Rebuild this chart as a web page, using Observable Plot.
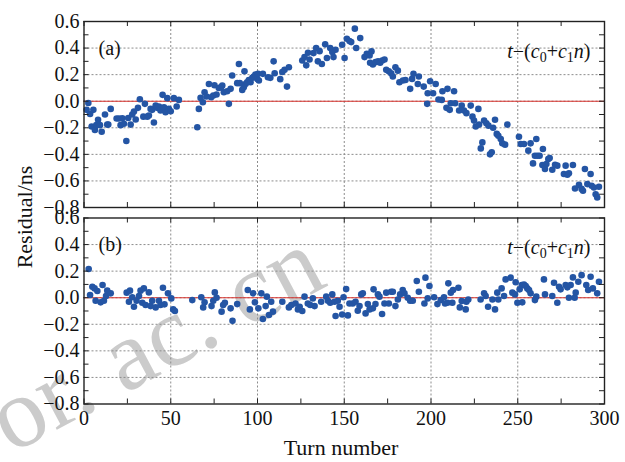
<!DOCTYPE html>
<html><head><meta charset="utf-8">
<script src="https://cdn.jsdelivr.net/npm/d3@7"></script>
<script src="https://cdn.jsdelivr.net/npm/@observablehq/plot@0.6"></script>
<style>
body{margin:0;background:#fff;}
#wrap{position:relative;width:625px;height:462px;overflow:hidden;background:#fff;}
#wm{position:absolute;left:-28px;top:381px;transform:rotate(-28deg);transform-origin:0 0;font:100px "Liberation Serif",serif;color:#cbcbcb;line-height:1;white-space:pre;}
#chart{position:absolute;left:0;top:0;}
#ylab{position:absolute;left:-75px;top:206px;width:200px;text-align:center;font:22px "Liberation Serif",serif;line-height:22px;transform:rotate(-90deg);transform-origin:50% 50%;color:#111;}
#xlab{position:absolute;left:241px;top:437px;width:200px;text-align:center;font:22px "Liberation Serif",serif;line-height:1;color:#111;}
</style></head>
<body>
<div id="wrap"><div id="wm">or. ac. cn</div><div id="chart"></div><div id="ylab">Residual/ns</div><div id="xlab">Turn number</div></div>
<script>
// Panel (a): t − (c0 + c1 n), residual vs turn
const turnsA = [1.5,2.5,3.5,4.4,5.4,6.3,7.1,8.1,9.2,10.2,12.1,13.4,14.0,15.4,18.8,20.2,21.1,22.1,23.0,24.4,25.5,26.9,27.8,28.8,29.8,31.1,32.2,34.2,35.1,36.5,37.4,38.4,39.3,40.3,41.3,42.2,43.2,44.1,45.3,46.1,47.0,48.0,48.9,50.0,51.8,53.4,54.7,
65.3,66.2,67.2,68.5,69.5,70.6,72.0,73.3,74.5,75.2,76.4,77.7,79.0,79.7,80.6,82.5,83.5,84.5,85.4,88.3,89.3,89.8,91.2,92.1,92.5,93.1,94.0,95.0,96.0,97.0,97.9,98.8,99.8,
100.3,100.8,103.1,106.0,107.4,109.3,109.9,113.1,114.3,115.6,117.0,118.1,125.8,127.1,128.1,129.1,130.0,132.3,133.8,134.8,135.8,137.1,139.0,140.0,141.9,143.1,143.8,145.0,148.8,150.2,151.5,153.0,154.0,156.1,156.9,159.2,161.7,163.0,164.6,164.9,165.7,166.5,168.0,169.5,170.7,171.9,173.2,174.2,175.7,177.0,178.0,179.5,180.9,181.8,183.8,185.3,188.0,189.1,189.9,192.4,193.0,195.8,197.8,198.1,199.5,
201.2,202.7,204.3,206.2,206.6,208.9,209.5,210.8,211.4,213.3,213.9,216.2,217.7,219.0,220.4,222.9,223.9,224.8,225.8,227.3,227.7,228.7,229.6,230.6,231.9,233.1,234.0,235.0,235.8,236.9,237.9,238.8,240.2,241.1,242.7,244.0,250.7,251.7,253.6,256.1,257.4,258.8,259.9,260.7,261.3,262.6,264.2,264.5,265.7,266.5,267.6,268.4,269.9,271.5,272.8,276.6,277.6,278.6,279.5,281.8,283.0,285.3,286.8,287.6,288.7,290.1,292.0,292.6,293.9,294.9,295.8,296.8];
const residA = [-0.065,-0.013,-0.096,-0.19,-0.065,-0.216,-0.18,-0.14,-0.18,-0.23,-0.10,-0.176,-0.176,-0.058,-0.13,-0.13,-0.18,-0.128,-0.17,-0.30,-0.126,-0.176,-0.10,-0.078,-0.138,-0.05,0.015,-0.116,-0.02,-0.116,-0.108,-0.058,-0.065,-0.16,-0.033,-0.05,-0.04,-0.07,0.048,-0.045,-0.083,0.023,-0.058,-0.075,0.023,-0.04,0.01,
-0.196,-0.058,0.025,-0.008,0.068,0.035,0.13,0.03,0.043,0.12,0.05,0.10,0.106,0.118,0.068,0.075,-0.02,0.093,0.194,0.136,0.28,0.136,0.085,0.106,0.226,0.13,0.143,0.16,0.143,0.176,0.186,0.2,0.168,
0.206,0.156,0.206,0.18,0.176,0.30,0.21,0.166,0.22,0.236,0.11,0.256,0.307,0.332,0.27,0.365,0.314,0.362,0.40,0.30,0.377,0.28,0.428,0.325,0.40,0.37,0.332,0.387,0.425,0.325,0.47,0.453,0.445,0.546,0.40,0.475,0.332,0.357,0.345,0.29,0.375,0.277,0.294,0.30,0.29,0.307,0.314,0.236,0.226,0.21,0.186,0.256,0.23,0.143,0.156,0.16,0.093,0.168,0.206,0.13,0.186,0.11,-0.02,0.06,0.15,
0.06,0.13,0.013,0.01,0.075,-0.05,0.093,-0.065,-0.015,0.075,-0.015,-0.07,-0.033,-0.07,-0.09,-0.033,-0.116,-0.146,-0.19,-0.058,-0.176,-0.355,-0.31,-0.146,-0.166,-0.184,-0.40,-0.385,-0.20,-0.14,-0.246,-0.26,-0.284,-0.317,-0.327,-0.176,-0.267,-0.322,-0.322,-0.372,-0.317,-0.468,-0.41,-0.284,-0.41,-0.41,-0.48,-0.36,-0.51,-0.473,-0.435,-0.428,-0.516,-0.478,-0.485,-0.548,-0.485,-0.553,-0.543,-0.48,-0.657,-0.63,-0.66,-0.674,-0.51,-0.624,-0.548,-0.636,-0.65,-0.70,-0.725,-0.644];

// Panel (b)
const turnsB = [2.7,3.5,4.8,6.1,6.7,7.7,9.6,10.7,11.5,12.7,13.4,15.4,24.6,25.9,26.5,27.8,28.8,30.3,31.7,32.6,33.6,34.5,35.5,37.4,38.4,39.3,41.3,43.2,44.1,45.5,46.4,48.4,50.3,51.4,52.4,62.4,67.6,68.7,69.5,73.5,74.5,75.4,76.4,79.3,80.2,81.2,84.5,85.6,88.3,94.4,95.6,97.5,98.5,100.5,
102.2,103.1,104.7,105.4,106.6,107.9,108.9,114.3,118.1,119.5,121.9,123.3,124.3,125.8,127.1,129.0,130.4,131.9,132.9,136.7,139.6,140.6,141.9,143.1,144.4,145.0,146.3,147.3,148.8,149.6,151.1,152.1,153.0,154.9,156.5,157.8,158.8,159.8,160.7,162.3,163.6,164.6,166.5,166.9,168.0,169.4,170.3,171.8,173.2,174.2,175.7,177.0,178.0,179.5,180.9,182.2,183.7,184.7,186.6,188.0,189.5,191.8,193.0,196.2,196.8,198.1,199.1,
201.8,203.7,205.6,207.5,208.1,209.5,210.0,211.4,212.3,212.7,215.8,216.6,217.7,220.0,220.4,221.5,228.6,230.6,231.5,232.9,235.4,236.9,238.2,238.8,240.7,242.1,243.0,245.9,246.9,248.4,248.8,249.8,251.1,252.3,252.6,253.6,254.6,255.5,256.5,257.4,259.9,260.7,265.1,265.7,269.9,270.9,272.8,273.8,274.7,277.6,278.6,279.5,280.5,281.8,282.8,283.4,284.9,286.8,289.5,290.6,292.0,293.3,295.8,296.8];
const residB = [0.216,0.02,0.083,0.07,-0.023,0.05,-0.035,0.096,-0.023,0.013,0.053,0.033,0.038,-0.03,0.053,0.003,-0.068,-0.023,0.013,0.053,-0.038,0.07,-0.055,0.04,-0.063,-0.023,-0.073,-0.023,-0.055,0.075,-0.05,0.033,-0.005,-0.088,-0.1,-0.018,0.003,-0.073,-0.035,-0.063,-0.023,0.04,0,-0.105,-0.055,-0.038,-0.08,-0.174,-0.048,0.058,-0.088,0.033,-0.035,-0.08,
0.033,-0.16,-0.063,0.008,-0.13,-0.03,-0.105,-0.03,-0.073,-0.055,-0.043,-0.088,-0.068,-0.1,0.008,-0.043,-0.055,-0.005,-0.063,-0.03,0.008,-0.023,-0.038,0.025,-0.03,-0.138,-0.023,-0.068,-0.126,0.003,0.065,-0.133,-0.043,-0.043,-0.03,-0.098,-0.063,0.025,0.033,-0.118,-0.048,-0.088,-0.08,0.063,-0.048,0.025,0.008,-0.123,-0.043,0.038,-0.043,0.045,0.045,-0.063,-0.013,0.025,0.058,0.033,0,-0.023,-0.023,0.126,0.045,-0.043,0.151,-0.005,0.088,
0.003,-0.048,-0.018,0.003,-0.043,-0.038,0.108,0.038,-0.038,0.058,0.075,-0.073,-0.025,-0.088,-0.03,-0.013,-0.013,0.033,0.013,-0.068,-0.013,-0.088,0.038,-0.013,0.07,0.013,0.138,0.151,0.038,0.025,0.116,-0.038,0.063,0.096,-0.035,0.1,0.088,0.07,0.058,0.033,-0.018,0.008,0.138,0.025,0.013,0.113,-0.038,0.083,0.063,0.096,0.078,0,0.096,0.153,0,0.038,0.12,0.17,0.096,0.058,0.158,0.07,0.033,0.12];

const panels = ["a", "b"];
const panelLabels = ["(a)", "(b)"];
const formulaText = "t−(c0+c1n)";
const xTicks = [0, 50, 100, 150, 200, 250, 300];
const xMinorTicks = [0, 25, 50, 75, 100, 125, 150, 175, 200, 225, 250, 275, 300];
const yTicks = [-0.8, -0.6, -0.4, -0.2, 0.0, 0.2, 0.4, 0.6];
const yMinorTicks = [-0.8, -0.7, -0.6, -0.5, -0.4, -0.3, -0.2, -0.1, 0.0, 0.1, 0.2, 0.3, 0.4, 0.5, 0.6];

const rows = [
  ...turnsA.map((t, i) => ({panel: "a", turn: t, resid: residA[i]})),
  ...turnsB.map((t, i) => ({panel: "b", turn: t, resid: residB[i]}))
];
const labelRows = panels.map((p, i) => ({panel: p, label: panelLabels[i], formula: formulaText}));

const W = 625, H = 462, mL = 83.5, mR = 21, mT = 21, mB = 58.5;
const pad = 0.0534;
const innerW = W - mL - mR;
const innerH = H - mT - mB;
const band = innerH / (2 - pad) * (1 - pad);
const tk = 5;

const gridStyle = {stroke: "#8c8c8c", strokeOpacity: 1, strokeDasharray: "2,2", strokeWidth: 1};
const xGrid = xTicks.filter(d => d > 0 && d < 300);
const yGrid = yTicks.filter(d => d > -0.8 && d < 0.6);

const chart = Plot.plot({
  width: W, height: H,
  marginLeft: mL, marginRight: mR, marginTop: mT, marginBottom: mB,
  style: {fontFamily: '"Liberation Serif", serif', fontSize: "20px", background: "transparent", color: "#111"},
  x: {domain: [0, 300]},
  y: {domain: [-0.8, 0.6]},
  fy: {domain: panels, axis: null, paddingInner: pad, paddingOuter: 0, round: false},
  marks: [
    Plot.gridX(xGrid, gridStyle),
    Plot.gridY(yGrid, gridStyle),
    Plot.ruleY([0], {stroke: "#d8322c", strokeWidth: 1.1}),
    Plot.dot(rows, {x: "turn", y: "resid", fy: "panel", r: 3.3, fill: "#2455a4", stroke: "none"}),
    Plot.frame({stroke: "#222", strokeWidth: 1.4}),
    Plot.tickY(yMinorTicks, {y: d => d, insetRight: innerW - tk, stroke: "#222", strokeWidth: 1}),
    Plot.tickY(yMinorTicks, {y: d => d, insetLeft: innerW - tk, stroke: "#222", strokeWidth: 1}),
    Plot.tickX(xMinorTicks, {x: d => d, insetBottom: band - tk, stroke: "#222", strokeWidth: 1}),
    Plot.tickX(xMinorTicks, {x: d => d, insetTop: band - tk, stroke: "#222", strokeWidth: 1}),
    Plot.axisX(xTicks, {tickSize: 0, tickPadding: 7, tickFormat: d3.format("d"), label: null}),
    Plot.axisY(yTicks, {tickSize: 0, tickPadding: 4.5, tickFormat: d3.format(".1f"), label: null}),
    Plot.text(labelRows, {fy: "panel", text: "label", frameAnchor: "top-left", dx: 14.5, dy: 19, textAnchor: "start", fontSize: 20}),
    Plot.text(labelRows, {fy: "panel", text: "formula", frameAnchor: "top-right", dx: -14, dy: 22, textAnchor: "end", fontSize: 20})
  ]
});
document.getElementById("chart").appendChild(chart);

// typeset formula with italics and subscripts
const parts = [["t", "i"], ["−(", "n"], ["c", "i"], ["0", "s"], ["+", "n"], ["c", "i"], ["1", "s"], ["n", "i"], [")", "n"]];
d3.select(chart).selectAll("text").filter(function() { return this.textContent === formulaText; }).each(function() {
  const t = d3.select(this);
  t.text(null);
  let shifted = false;
  for (const [s, k] of parts) {
    const sp = t.append("tspan").text(s);
    if (k === "i") sp.attr("font-style", "italic");
    if (k === "s") { sp.attr("font-size", 14).attr("dy", 4); shifted = true; }
    else if (shifted) { sp.attr("dy", -4); shifted = false; }
  }
});
</script>
</body></html>
